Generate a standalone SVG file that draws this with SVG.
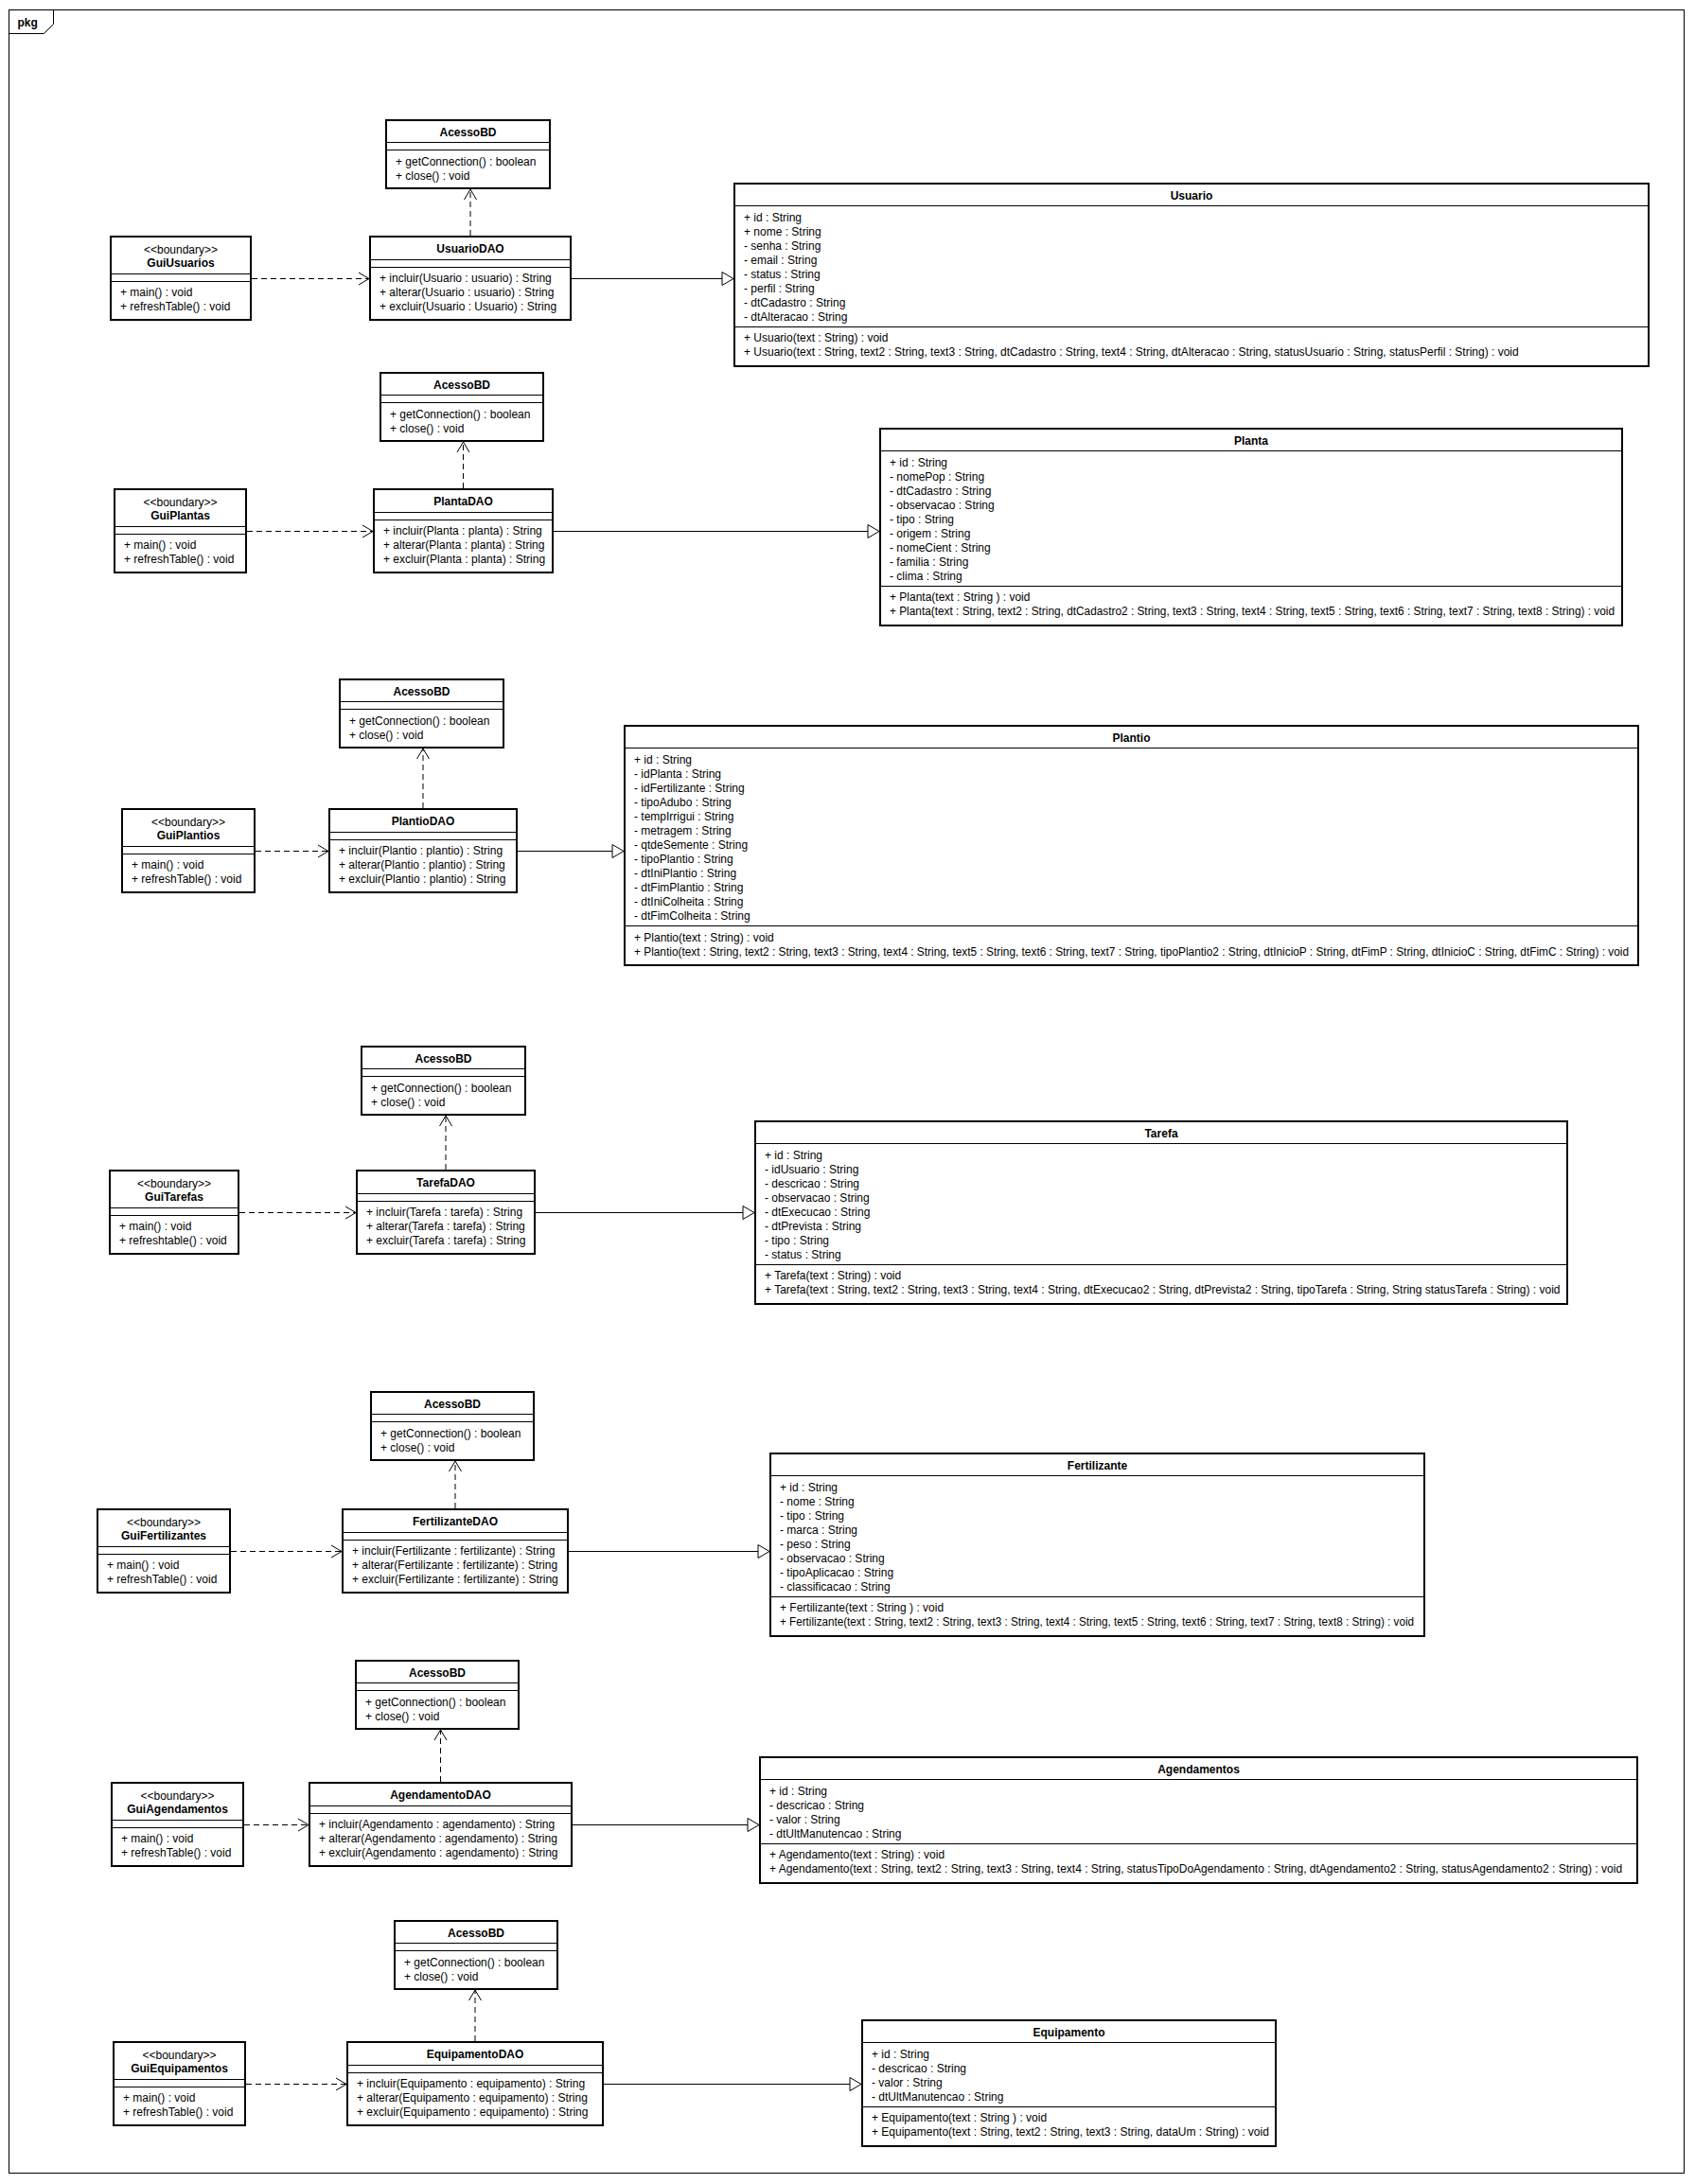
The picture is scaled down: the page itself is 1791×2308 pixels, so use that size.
<svg xmlns="http://www.w3.org/2000/svg" width="1791" height="2308" viewBox="0 0 1791 2308">
<style>
.box{fill:#fff;stroke:#000;stroke-width:2}
.dv{stroke:#000;stroke-width:1}
.t{font-family:"Liberation Sans",Arial,sans-serif;font-size:12px;fill:#000}
.b{font-weight:bold}
.c{text-anchor:middle}
.dash{stroke:#000;stroke-width:1;stroke-dasharray:6 4;fill:none}
.gen{stroke:#000;stroke-width:1;fill:none}
.frame{fill:none;stroke:#000;stroke-width:1}
</style>
<defs>
<marker id="open" viewBox="-1 -1 13 15" refX="11" refY="6.5" markerWidth="13" markerHeight="15" markerUnits="userSpaceOnUse" orient="auto">
<path d="M0,0 L11,6.5 L0,13" fill="none" stroke="#000" stroke-width="1" stroke-dasharray="none"/>
</marker>
<marker id="tri" viewBox="-1 -1 14 16" refX="12" refY="7" markerWidth="14" markerHeight="16" markerUnits="userSpaceOnUse" orient="auto">
<path d="M0,0 L12,7 L0,14 Z" fill="#fff" stroke="#000" stroke-width="1" stroke-dasharray="none"/>
</marker>
</defs>
<rect width="1791" height="2308" fill="#fff"/>
<g id="frame">
<rect class="frame" x="9.5" y="10.5" width="1770" height="2286"/>
<path class="frame" d="M9.5 35.5 H46.5 L56.5 25.5 V10.5"/>
<text class="t b" x="18.5" y="28">pkg</text>
</g>

<!-- Row 1 -->
<g id="AcessoBD_1">
<rect class="box" x="408" y="127" width="173" height="72"/>
<line class="dv" x1="408" y1="150.5" x2="581" y2="150.5"/>
<line class="dv" x1="408" y1="158.5" x2="581" y2="158.5"/>
<text class="t b c" x="494.5" y="144">AcessoBD</text>
<text class="t" x="418" y="175">+ getConnection() : boolean</text>
<text class="t" x="418" y="190">+ close() : void</text>
</g>
<g id="GuiUsuarios">
<rect class="box" x="117" y="250" width="148" height="88"/>
<line class="dv" x1="117" y1="289.5" x2="265" y2="289.5"/>
<line class="dv" x1="117" y1="297.5" x2="265" y2="297.5"/>
<text class="t c" x="191" y="268">&lt;&lt;boundary&gt;&gt;</text>
<text class="t b c" x="191" y="282">GuiUsuarios</text>
<text class="t" x="127" y="313">+ main() : void</text>
<text class="t" x="127" y="328">+ refreshTable() : void</text>
</g>
<g id="UsuarioDAO">
<rect class="box" x="391" y="250" width="212" height="88"/>
<line class="dv" x1="391" y1="274.5" x2="603" y2="274.5"/>
<line class="dv" x1="391" y1="282.5" x2="603" y2="282.5"/>
<text class="t b c" x="497" y="267">UsuarioDAO</text>
<text class="t" x="401" y="298">+ incluir(Usuario : usuario) : String</text>
<text class="t" x="401" y="313">+ alterar(Usuario : usuario) : String</text>
<text class="t" x="401" y="328">+ excluir(Usuario : Usuario) : String</text>
</g>
<g id="Usuario">
<rect class="box" x="776" y="194" width="966" height="193"/>
<line class="dv" x1="776" y1="217.5" x2="1742" y2="217.5"/>
<line class="dv" x1="776" y1="345.5" x2="1742" y2="345.5"/>
<text class="t b c" x="1259" y="211">Usuario</text>
<text class="t" x="786" y="234">+ id : String</text>
<text class="t" x="786" y="249">+ nome : String</text>
<text class="t" x="786" y="264">- senha : String</text>
<text class="t" x="786" y="279">- email : String</text>
<text class="t" x="786" y="294">- status : String</text>
<text class="t" x="786" y="309">- perfil : String</text>
<text class="t" x="786" y="324">- dtCadastro : String</text>
<text class="t" x="786" y="339">- dtAlteracao : String</text>
<text class="t" x="786" y="361">+ Usuario(text : String) : void</text>
<text class="t" x="786" y="376">+ Usuario(text : String, text2 : String, text3 : String, dtCadastro : String, text4 : String, dtAlteracao : String, statusUsuario : String, statusPerfil : String) : void</text>
</g>

<!-- Row 2 -->
<g id="AcessoBD_2">
<rect class="box" x="402" y="394" width="172" height="72"/>
<line class="dv" x1="402" y1="417.5" x2="574" y2="417.5"/>
<line class="dv" x1="402" y1="425.5" x2="574" y2="425.5"/>
<text class="t b c" x="488" y="411">AcessoBD</text>
<text class="t" x="412" y="442">+ getConnection() : boolean</text>
<text class="t" x="412" y="457">+ close() : void</text>
</g>
<g id="GuiPlantas">
<rect class="box" x="121" y="517" width="139" height="88"/>
<line class="dv" x1="121" y1="556.5" x2="260" y2="556.5"/>
<line class="dv" x1="121" y1="564.5" x2="260" y2="564.5"/>
<text class="t c" x="190.5" y="535">&lt;&lt;boundary&gt;&gt;</text>
<text class="t b c" x="190.5" y="549">GuiPlantas</text>
<text class="t" x="131" y="580">+ main() : void</text>
<text class="t" x="131" y="595">+ refreshTable() : void</text>
</g>
<g id="PlantaDAO">
<rect class="box" x="395" y="517" width="189" height="88"/>
<line class="dv" x1="395" y1="541.5" x2="584" y2="541.5"/>
<line class="dv" x1="395" y1="549.5" x2="584" y2="549.5"/>
<text class="t b c" x="489.5" y="534">PlantaDAO</text>
<text class="t" x="405" y="565">+ incluir(Planta : planta) : String</text>
<text class="t" x="405" y="580">+ alterar(Planta : planta) : String</text>
<text class="t" x="405" y="595">+ excluir(Planta : planta) : String</text>
</g>
<g id="Planta">
<rect class="box" x="930" y="453" width="784" height="208"/>
<line class="dv" x1="930" y1="476.5" x2="1714" y2="476.5"/>
<line class="dv" x1="930" y1="619.5" x2="1714" y2="619.5"/>
<text class="t b c" x="1322" y="470">Planta</text>
<text class="t" x="940" y="493">+ id : String</text>
<text class="t" x="940" y="508">- nomePop : String</text>
<text class="t" x="940" y="523">- dtCadastro : String</text>
<text class="t" x="940" y="538">- observacao : String</text>
<text class="t" x="940" y="553">- tipo : String</text>
<text class="t" x="940" y="568">- origem : String</text>
<text class="t" x="940" y="583">- nomeCient : String</text>
<text class="t" x="940" y="598">- familia : String</text>
<text class="t" x="940" y="613">- clima : String</text>
<text class="t" x="940" y="635">+ Planta(text : String ) : void</text>
<text class="t" x="940" y="650" textLength="766" lengthAdjust="spacingAndGlyphs">+ Planta(text : String, text2 : String, dtCadastro2 : String, text3 : String, text4 : String, text5 : String, text6 : String, text7 : String, text8 : String) : void</text>
</g>

<!-- Row 3 -->
<g id="AcessoBD_3">
<rect class="box" x="359" y="718" width="173" height="72"/>
<line class="dv" x1="359" y1="741.5" x2="532" y2="741.5"/>
<line class="dv" x1="359" y1="749.5" x2="532" y2="749.5"/>
<text class="t b c" x="445.5" y="735">AcessoBD</text>
<text class="t" x="369" y="766">+ getConnection() : boolean</text>
<text class="t" x="369" y="781">+ close() : void</text>
</g>
<g id="GuiPlantios">
<rect class="box" x="129" y="855" width="140" height="88"/>
<line class="dv" x1="129" y1="894.5" x2="269" y2="894.5"/>
<line class="dv" x1="129" y1="902.5" x2="269" y2="902.5"/>
<text class="t c" x="199" y="873">&lt;&lt;boundary&gt;&gt;</text>
<text class="t b c" x="199" y="887">GuiPlantios</text>
<text class="t" x="139" y="918">+ main() : void</text>
<text class="t" x="139" y="933">+ refreshTable() : void</text>
</g>
<g id="PlantioDAO">
<rect class="box" x="348" y="855" width="198" height="88"/>
<line class="dv" x1="348" y1="879.5" x2="546" y2="879.5"/>
<line class="dv" x1="348" y1="887.5" x2="546" y2="887.5"/>
<text class="t b c" x="447" y="872">PlantioDAO</text>
<text class="t" x="358" y="903">+ incluir(Plantio : plantio) : String</text>
<text class="t" x="358" y="918">+ alterar(Plantio : plantio) : String</text>
<text class="t" x="358" y="933">+ excluir(Plantio : plantio) : String</text>
</g>
<g id="Plantio">
<rect class="box" x="660" y="767" width="1071" height="253"/>
<line class="dv" x1="660" y1="790.5" x2="1731" y2="790.5"/>
<line class="dv" x1="660" y1="978.5" x2="1731" y2="978.5"/>
<text class="t b c" x="1195.5" y="784">Plantio</text>
<text class="t" x="670" y="807">+ id : String</text>
<text class="t" x="670" y="822">- idPlanta : String</text>
<text class="t" x="670" y="837">- idFertilizante : String</text>
<text class="t" x="670" y="852">- tipoAdubo : String</text>
<text class="t" x="670" y="867">- tempIrrigui : String</text>
<text class="t" x="670" y="882">- metragem : String</text>
<text class="t" x="670" y="897">- qtdeSemente : String</text>
<text class="t" x="670" y="912">- tipoPlantio : String</text>
<text class="t" x="670" y="927">- dtIniPlantio : String</text>
<text class="t" x="670" y="942">- dtFimPlantio : String</text>
<text class="t" x="670" y="957">- dtIniColheita : String</text>
<text class="t" x="670" y="972">- dtFimColheita : String</text>
<text class="t" x="670" y="995">+ Plantio(text : String) : void</text>
<text class="t" x="670" y="1010" textLength="1051" lengthAdjust="spacingAndGlyphs">+ Plantio(text : String, text2 : String, text3 : String, text4 : String, text5 : String, text6 : String, text7 : String, tipoPlantio2 : String, dtInicioP : String, dtFimP : String, dtInicioC : String, dtFimC : String) : void</text>
</g>

<!-- Row 4 -->
<g id="AcessoBD_4">
<rect class="box" x="382" y="1106" width="173" height="72"/>
<line class="dv" x1="382" y1="1129.5" x2="555" y2="1129.5"/>
<line class="dv" x1="382" y1="1137.5" x2="555" y2="1137.5"/>
<text class="t b c" x="468.5" y="1123">AcessoBD</text>
<text class="t" x="392" y="1154">+ getConnection() : boolean</text>
<text class="t" x="392" y="1169">+ close() : void</text>
</g>
<g id="GuiTarefas">
<rect class="box" x="116" y="1237" width="136" height="88"/>
<line class="dv" x1="116" y1="1276.5" x2="252" y2="1276.5"/>
<line class="dv" x1="116" y1="1284.5" x2="252" y2="1284.5"/>
<text class="t c" x="184" y="1255">&lt;&lt;boundary&gt;&gt;</text>
<text class="t b c" x="184" y="1269">GuiTarefas</text>
<text class="t" x="126" y="1300">+ main() : void</text>
<text class="t" x="126" y="1315">+ refreshtable() : void</text>
</g>
<g id="TarefaDAO">
<rect class="box" x="377" y="1237" width="188" height="88"/>
<line class="dv" x1="377" y1="1261.5" x2="565" y2="1261.5"/>
<line class="dv" x1="377" y1="1269.5" x2="565" y2="1269.5"/>
<text class="t b c" x="471" y="1254">TarefaDAO</text>
<text class="t" x="387" y="1285">+ incluir(Tarefa : tarefa) : String</text>
<text class="t" x="387" y="1300">+ alterar(Tarefa : tarefa) : String</text>
<text class="t" x="387" y="1315">+ excluir(Tarefa : tarefa) : String</text>
</g>
<g id="Tarefa">
<rect class="box" x="798" y="1185" width="858" height="193"/>
<line class="dv" x1="798" y1="1208.5" x2="1656" y2="1208.5"/>
<line class="dv" x1="798" y1="1336.5" x2="1656" y2="1336.5"/>
<text class="t b c" x="1227" y="1202">Tarefa</text>
<text class="t" x="808" y="1225">+ id : String</text>
<text class="t" x="808" y="1240">- idUsuario : String</text>
<text class="t" x="808" y="1255">- descricao : String</text>
<text class="t" x="808" y="1270">- observacao : String</text>
<text class="t" x="808" y="1285">- dtExecucao : String</text>
<text class="t" x="808" y="1300">- dtPrevista : String</text>
<text class="t" x="808" y="1315">- tipo : String</text>
<text class="t" x="808" y="1330">- status : String</text>
<text class="t" x="808" y="1352">+ Tarefa(text : String) : void</text>
<text class="t" x="808" y="1367">+ Tarefa(text : String, text2 : String, text3 : String, text4 : String, dtExecucao2 : String, dtPrevista2 : String, tipoTarefa : String, String statusTarefa : String) : void</text>
</g>

<!-- Row 5 -->
<g id="AcessoBD_5">
<rect class="box" x="392" y="1471" width="172" height="72"/>
<line class="dv" x1="392" y1="1494.5" x2="564" y2="1494.5"/>
<line class="dv" x1="392" y1="1502.5" x2="564" y2="1502.5"/>
<text class="t b c" x="478" y="1488">AcessoBD</text>
<text class="t" x="402" y="1519">+ getConnection() : boolean</text>
<text class="t" x="402" y="1534">+ close() : void</text>
</g>
<g id="GuiFertilizantes">
<rect class="box" x="103" y="1595" width="140" height="88"/>
<line class="dv" x1="103" y1="1634.5" x2="243" y2="1634.5"/>
<line class="dv" x1="103" y1="1642.5" x2="243" y2="1642.5"/>
<text class="t c" x="173" y="1613">&lt;&lt;boundary&gt;&gt;</text>
<text class="t b c" x="173" y="1627">GuiFertilizantes</text>
<text class="t" x="113" y="1658">+ main() : void</text>
<text class="t" x="113" y="1673">+ refreshTable() : void</text>
</g>
<g id="FertilizanteDAO">
<rect class="box" x="362" y="1595" width="238" height="88"/>
<line class="dv" x1="362" y1="1619.5" x2="600" y2="1619.5"/>
<line class="dv" x1="362" y1="1627.5" x2="600" y2="1627.5"/>
<text class="t b c" x="481" y="1612">FertilizanteDAO</text>
<text class="t" x="372" y="1643">+ incluir(Fertilizante : fertilizante) : String</text>
<text class="t" x="372" y="1658">+ alterar(Fertilizante : fertilizante) : String</text>
<text class="t" x="372" y="1673">+ excluir(Fertilizante : fertilizante) : String</text>
</g>
<g id="Fertilizante">
<rect class="box" x="814" y="1536" width="691" height="193"/>
<line class="dv" x1="814" y1="1559.5" x2="1505" y2="1559.5"/>
<line class="dv" x1="814" y1="1687.5" x2="1505" y2="1687.5"/>
<text class="t b c" x="1159.5" y="1553">Fertilizante</text>
<text class="t" x="824" y="1576">+ id : String</text>
<text class="t" x="824" y="1591">- nome : String</text>
<text class="t" x="824" y="1606">- tipo : String</text>
<text class="t" x="824" y="1621">- marca : String</text>
<text class="t" x="824" y="1636">- peso : String</text>
<text class="t" x="824" y="1651">- observacao : String</text>
<text class="t" x="824" y="1666">- tipoAplicacao : String</text>
<text class="t" x="824" y="1681">- classificacao : String</text>
<text class="t" x="824" y="1703">+ Fertilizante(text : String ) : void</text>
<text class="t" x="824" y="1718" textLength="670" lengthAdjust="spacingAndGlyphs">+ Fertilizante(text : String, text2 : String, text3 : String, text4 : String, text5 : String, text6 : String, text7 : String, text8 : String) : void</text>
</g>

<!-- Row 6 -->
<g id="AcessoBD_6">
<rect class="box" x="376" y="1755" width="172" height="72"/>
<line class="dv" x1="376" y1="1778.5" x2="548" y2="1778.5"/>
<line class="dv" x1="376" y1="1786.5" x2="548" y2="1786.5"/>
<text class="t b c" x="462" y="1772">AcessoBD</text>
<text class="t" x="386" y="1803">+ getConnection() : boolean</text>
<text class="t" x="386" y="1818">+ close() : void</text>
</g>
<g id="GuiAgendamentos">
<rect class="box" x="118" y="1884" width="139" height="88"/>
<line class="dv" x1="118" y1="1923.5" x2="257" y2="1923.5"/>
<line class="dv" x1="118" y1="1931.5" x2="257" y2="1931.5"/>
<text class="t c" x="187.5" y="1902">&lt;&lt;boundary&gt;&gt;</text>
<text class="t b c" x="187.5" y="1916">GuiAgendamentos</text>
<text class="t" x="128" y="1947">+ main() : void</text>
<text class="t" x="128" y="1962">+ refreshTable() : void</text>
</g>
<g id="AgendamentoDAO">
<rect class="box" x="327" y="1884" width="277" height="88"/>
<line class="dv" x1="327" y1="1908.5" x2="604" y2="1908.5"/>
<line class="dv" x1="327" y1="1916.5" x2="604" y2="1916.5"/>
<text class="t b c" x="465.5" y="1901">AgendamentoDAO</text>
<text class="t" x="337" y="1932">+ incluir(Agendamento : agendamento) : String</text>
<text class="t" x="337" y="1947">+ alterar(Agendamento : agendamento) : String</text>
<text class="t" x="337" y="1962">+ excluir(Agendamento : agendamento) : String</text>
</g>
<g id="Agendamentos">
<rect class="box" x="803" y="1857" width="927" height="133"/>
<line class="dv" x1="803" y1="1880.5" x2="1730" y2="1880.5"/>
<line class="dv" x1="803" y1="1948.5" x2="1730" y2="1948.5"/>
<text class="t b c" x="1266.5" y="1874">Agendamentos</text>
<text class="t" x="813" y="1897">+ id : String</text>
<text class="t" x="813" y="1912">- descricao : String</text>
<text class="t" x="813" y="1927">- valor : String</text>
<text class="t" x="813" y="1942">- dtUltManutencao : String</text>
<text class="t" x="813" y="1964">+ Agendamento(text : String) : void</text>
<text class="t" x="813" y="1979">+ Agendamento(text : String, text2 : String, text3 : String, text4 : String, statusTipoDoAgendamento : String, dtAgendamento2 : String, statusAgendamento2 : String) : void</text>
</g>

<!-- Row 7 -->
<g id="AcessoBD_7">
<rect class="box" x="417" y="2030" width="172" height="72"/>
<line class="dv" x1="417" y1="2053.5" x2="589" y2="2053.5"/>
<line class="dv" x1="417" y1="2061.5" x2="589" y2="2061.5"/>
<text class="t b c" x="503" y="2047">AcessoBD</text>
<text class="t" x="427" y="2078">+ getConnection() : boolean</text>
<text class="t" x="427" y="2093">+ close() : void</text>
</g>
<g id="GuiEquipamentos">
<rect class="box" x="120" y="2158" width="139" height="88"/>
<line class="dv" x1="120" y1="2197.5" x2="259" y2="2197.5"/>
<line class="dv" x1="120" y1="2205.5" x2="259" y2="2205.5"/>
<text class="t c" x="189.5" y="2176">&lt;&lt;boundary&gt;&gt;</text>
<text class="t b c" x="189.5" y="2190">GuiEquipamentos</text>
<text class="t" x="130" y="2221">+ main() : void</text>
<text class="t" x="130" y="2236">+ refreshTable() : void</text>
</g>
<g id="EquipamentoDAO">
<rect class="box" x="367" y="2158" width="270" height="88"/>
<line class="dv" x1="367" y1="2182.5" x2="637" y2="2182.5"/>
<line class="dv" x1="367" y1="2190.5" x2="637" y2="2190.5"/>
<text class="t b c" x="502" y="2175">EquipamentoDAO</text>
<text class="t" x="377" y="2206">+ incluir(Equipamento : equipamento) : String</text>
<text class="t" x="377" y="2221">+ alterar(Equipamento : equipamento) : String</text>
<text class="t" x="377" y="2236">+ excluir(Equipamento : equipamento) : String</text>
</g>
<g id="Equipamento">
<rect class="box" x="911" y="2135" width="437" height="133"/>
<line class="dv" x1="911" y1="2158.5" x2="1348" y2="2158.5"/>
<line class="dv" x1="911" y1="2226.5" x2="1348" y2="2226.5"/>
<text class="t b c" x="1129.5" y="2152">Equipamento</text>
<text class="t" x="921" y="2175">+ id : String</text>
<text class="t" x="921" y="2190">- descricao : String</text>
<text class="t" x="921" y="2205">- valor : String</text>
<text class="t" x="921" y="2220">- dtUltManutencao : String</text>
<text class="t" x="921" y="2242">+ Equipamento(text : String ) : void</text>
<text class="t" x="921" y="2257">+ Equipamento(text : String, text2 : String, text3 : String, dataUm : String) : void</text>
</g>

<g id="connectors">
<line class="dash" x1="266" y1="294.5" x2="390" y2="294.5" marker-end="url(#open)"/>
<line class="dash" x1="497" y1="249" x2="497" y2="200" marker-end="url(#open)"/>
<line class="gen" x1="604" y1="294.5" x2="775" y2="294.5" marker-end="url(#tri)"/>
<line class="dash" x1="261" y1="561.5" x2="394" y2="561.5" marker-end="url(#open)"/>
<line class="dash" x1="489.5" y1="516" x2="489.5" y2="467" marker-end="url(#open)"/>
<line class="gen" x1="585" y1="561.5" x2="929" y2="561.5" marker-end="url(#tri)"/>
<line class="dash" x1="270" y1="899.5" x2="347" y2="899.5" marker-end="url(#open)"/>
<line class="dash" x1="447" y1="854" x2="447" y2="791" marker-end="url(#open)"/>
<line class="gen" x1="547" y1="899.5" x2="659" y2="899.5" marker-end="url(#tri)"/>
<line class="dash" x1="253" y1="1281.5" x2="376" y2="1281.5" marker-end="url(#open)"/>
<line class="dash" x1="471" y1="1236" x2="471" y2="1179" marker-end="url(#open)"/>
<line class="gen" x1="566" y1="1281.5" x2="797" y2="1281.5" marker-end="url(#tri)"/>
<line class="dash" x1="244" y1="1639.5" x2="361" y2="1639.5" marker-end="url(#open)"/>
<line class="dash" x1="481" y1="1594" x2="481" y2="1544" marker-end="url(#open)"/>
<line class="gen" x1="601" y1="1639.5" x2="813" y2="1639.5" marker-end="url(#tri)"/>
<line class="dash" x1="258" y1="1928.5" x2="326" y2="1928.5" marker-end="url(#open)"/>
<line class="dash" x1="465.5" y1="1883" x2="465.5" y2="1828" marker-end="url(#open)"/>
<line class="gen" x1="605" y1="1928.5" x2="802" y2="1928.5" marker-end="url(#tri)"/>
<line class="dash" x1="260" y1="2202.5" x2="366" y2="2202.5" marker-end="url(#open)"/>
<line class="dash" x1="502" y1="2157" x2="502" y2="2103" marker-end="url(#open)"/>
<line class="gen" x1="638" y1="2202.5" x2="910" y2="2202.5" marker-end="url(#tri)"/>
</g>
</svg>
